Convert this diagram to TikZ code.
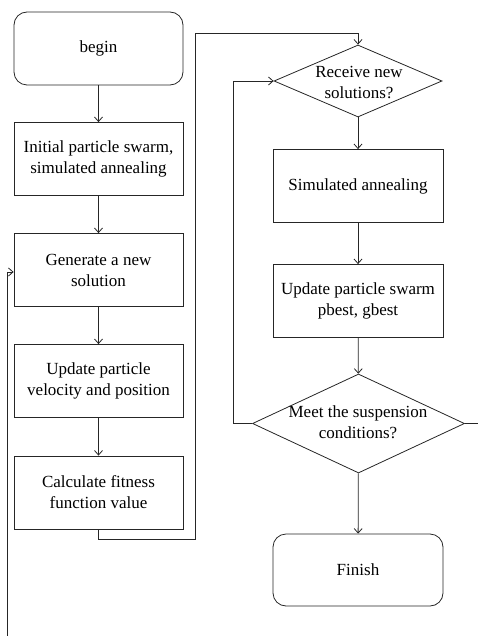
\documentclass[tikz,border=0pt]{standalone}
\usepackage{fontspec}
\setmainfont{Liberation Serif}
\usetikzlibrary{shapes.geometric,arrows.meta}
\begin{document}
\begin{tikzpicture}[x=1pt,y=-1pt,
  line width=0.8pt, draw=black!85,
  every node/.style={font=\fontsize{17}{21}\selectfont, align=center, line width=0.8pt},
  procbox/.style={draw=black!85, rectangle, minimum width=169pt, minimum height=73pt, inner sep=2pt},
  termbox/.style={procbox, rounded corners=13pt},
  decbox/.style={draw=black!85, diamond, inner sep=0pt},
  arr/.style={-{Straight Barb[length=4.5pt,width=8pt]}}]
\useasboundingbox (0,0) rectangle (478,636);
% left column
\node[termbox] (begin) at (98.5,48.5) {begin};
\node[procbox] (init) at (98.5,159) {Initial particle swarm,\\simulated annealing};
\node[procbox] (gen) at (98.5,270) {Generate a new\\solution};
\node[procbox] (upd) at (98.5,381) {Update particle\\velocity and position};
\node[procbox] (calc) at (98.5,492.5) {Calculate fitness\\function value};
% right column
\node[decbox, minimum width=168pt, minimum height=72pt] (recv) at (358,81) {};
\node at (359,82) {Receive new\\solutions?};
\node[procbox, minimum width=170pt] (sa) at (358,186) {Simulated annealing};
\node[procbox, minimum width=170pt] (ups) at (358,301) {Update particle swarm\\pbest, gbest};
\node[decbox, minimum width=212pt, minimum height=99pt] (meet) at (358.5,423.5) {};
\node at (358,422) {Meet the suspension\\conditions?};
\node[termbox, minimum width=170pt, minimum height=72pt] (fin) at (358,570) {Finish};
% free ends / bends
\coordinate (c1) at (195,33);
\coordinate (c2) at (233,423.5);
\coordinate (lb) at (7,636);
\coordinate (re) at (478,423.5);
% connectors
\draw[arr] (begin) -- (init);
\draw[arr] (init) -- (gen);
\draw[arr] (gen) -- (upd);
\draw[arr] (upd) -- (calc);
\draw[arr] (calc.south) -- ++(0,10) -| (c1) -| (recv.north);
\draw[arr] (recv) -- (sa);
\draw[arr] (sa) -- (ups);
\draw[arr] (ups) -- (meet);
\draw[arr] (meet) -- (fin);
\draw[arr] (meet.west) -- (c2) |- (recv.west);
\draw (meet.east) -- (re);
\draw[arr] (lb) |- ([yshift=-2pt]gen.west);
\end{tikzpicture}
\end{document}
